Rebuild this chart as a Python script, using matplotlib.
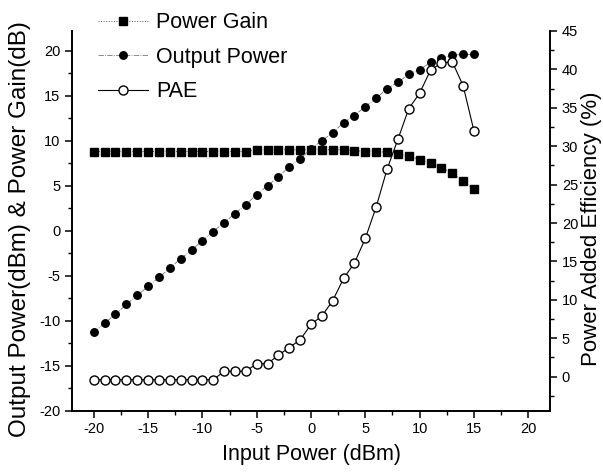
import matplotlib
matplotlib.use("Agg")
import matplotlib.pyplot as plt
from matplotlib.ticker import MultipleLocator

plt.rcParams['font.family'] = ['Liberation Sans', 'DejaVu Sans']
plt.rcParams['axes.unicode_minus'] = False

input_power = list(range(-20, 16))
power_gain = [8.8, 8.8, 8.8, 8.8, 8.8, 8.8, 8.8, 8.8, 8.8, 8.8, 8.8, 8.8, 8.8, 8.8, 8.8,
              9.0, 9.0, 9.0, 9.0, 9.0, 9.0, 9.0, 9.0, 9.0,
              8.9, 8.8, 8.75, 8.75, 8.5, 8.3, 7.9, 7.5, 7.0, 6.4, 5.5, 4.6]
output_power = [-11.3, -10.3, -9.3, -8.2, -7.2, -6.2, -5.2, -4.2, -3.1, -2.2, -1.1, -0.1,
                0.9, 1.9, 2.9, 4.0, 5.0, 6.0, 7.1, 8.0, 9.1, 10.0, 10.9, 12.0, 12.8,
                13.8, 14.7, 15.8, 16.5, 17.4, 17.9, 18.7, 19.2, 19.5, 19.6, 19.6]
pae = [-0.4, -0.4, -0.4, -0.4, -0.4, -0.4, -0.4, -0.4, -0.4, -0.4, -0.4, -0.4,
       0.7, 0.7, 0.7, 1.7, 1.7, 2.8, 3.8, 4.8, 6.8, 7.9, 9.9, 12.8, 14.8,
       18.0, 22.1, 27.0, 30.9, 34.9, 36.9, 39.9, 40.85, 41.0, 37.9, 32.0]

x_ticks = [-20, -15, -10, -5, 0, 5, 10, 15, 20]
left_ticks = [-20, -15, -10, -5, 0, 5, 10, 15, 20]
right_ticks = [0, 5, 10, 15, 20, 25, 30, 35, 40, 45]

W, H = 603, 472
fig = plt.figure(figsize=(W / 100, H / 100), dpi=100)
ax = fig.add_axes([72 / W, 1 - 410.5 / H, (550 - 72) / W, (410.5 - 31) / H])
ax2 = ax.twinx()

l1, = ax.plot(input_power, power_gain, linestyle=':', color='#555555', linewidth=0.7,
              marker='s', markersize=5.4, markerfacecolor='black', markeredgecolor='black',
              label='Power Gain')
l2, = ax.plot(input_power, output_power, linestyle='-.', color='#777777', linewidth=0.6,
              marker='o', markersize=5.4, markerfacecolor='black', markeredgecolor='black',
              label='Output Power')
l3, = ax2.plot(input_power, pae, linestyle='-', color='black', linewidth=0.8,
               marker='o', markersize=6.5, markerfacecolor='white', markeredgecolor='black',
               markeredgewidth=1.0, label='PAE')

ax.set_xlim(-22, 22)
ax.set_ylim(-20, 22.2)
ax2.set_ylim(-4.4, 45)
ax.set_xticks(x_ticks)
ax.set_yticks(left_ticks)
ax2.set_yticks(right_ticks)
ax.xaxis.set_minor_locator(MultipleLocator(2.5))
ax.yaxis.set_minor_locator(MultipleLocator(2.5))
ax2.yaxis.set_minor_locator(MultipleLocator(2.5))

for a in (ax, ax2):
    a.spines['top'].set_visible(False)
    for s in a.spines.values():
        s.set_linewidth(1.2)
    a.tick_params(which='major', direction='out', length=5, width=1.1, labelsize=10.5)
    a.tick_params(which='minor', direction='out', length=3, width=1.0)

ax.set_xlabel('Input Power (dBm)', fontsize=15.5)
ax.set_ylabel('Output Power(dBm) & Power Gain(dB)', fontsize=17.5)
ax2.set_ylabel('Power Added Efficiency (%)', fontsize=16)
ax.xaxis.set_label_coords(312 / W, 1 - 444 / H, transform=fig.transFigure)
ax.yaxis.set_label_coords(31 / W, 1 - 229 / H, transform=fig.transFigure)
ax2.yaxis.set_label_coords(581 / W, 1 - 229 / H, transform=fig.transFigure)

fig.legend(handles=[l1, l2, l3], loc='upper left',
           bbox_to_anchor=(98 / W, 1 - 12.5 / H), frameon=False, fontsize=15.5,
           borderpad=0, borderaxespad=0, handlelength=2.3, handletextpad=0.4,
           labelspacing=0.62)

fig.savefig('out.png', dpi=100)
